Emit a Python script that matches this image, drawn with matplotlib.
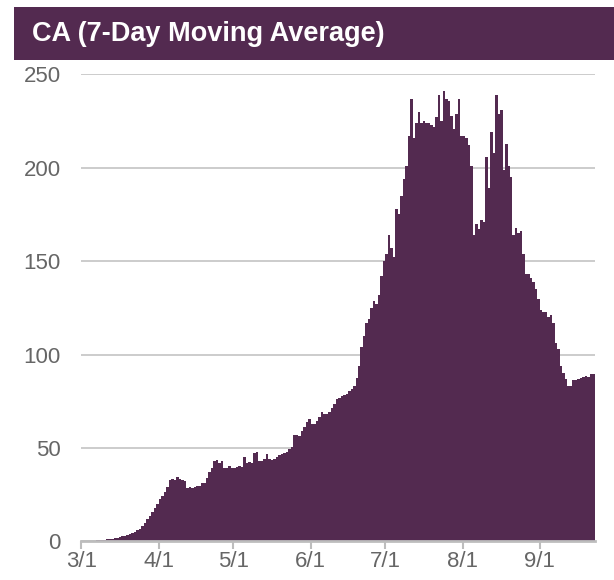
import matplotlib
matplotlib.use("Agg")
import matplotlib.pyplot as plt
import pandas as pd
from matplotlib.patches import Rectangle

plt.rcParams["font.family"] = ["Liberation Sans", "DejaVu Sans"]

# 7-day moving average, one value per day, split by month
mar = [0.1, 0.1, 0.2, 0.2, 0.3, 0.4, 0.5, 0.6, 0.8, 0.9, 1.0, 1.2, 1.4, 1.7, 2.0, 2.3,
       2.6, 3.0, 3.3, 3.7, 4.2, 5.0, 5.8, 6.8, 8.2, 10.0, 12.0, 13.5, 15.5, 18.0, 20.0]
apr = [22.5, 24.5, 26.5, 29.0, 33.0, 33.5, 33.0, 34.5, 33.5, 33.0, 32.5, 28.5, 29.0, 28.5, 29.0,
       29.5, 29.5, 31.0, 31.0, 34.0, 37.0, 39.0, 43.0, 43.5, 42.0, 43.0, 39.5, 39.0, 40.5, 39.5]
may = [39.5, 40.0, 40.5, 40.0, 45.0, 42.0, 42.5, 42.0, 47.5, 48.0, 43.0, 43.0, 44.0, 47.0, 44.0, 43.5,
       44.0, 45.0, 46.0, 47.0, 47.5, 48.0, 49.5, 50.5, 57.0, 57.0, 56.5, 59.0, 61.0, 64.0, 65.5]
jun = [63.0, 63.0, 64.5, 66.5, 69.0, 68.0, 68.0, 69.5, 71.5, 73.5, 76.0, 76.5, 78.0, 78.5, 79.0,
       80.5, 81.5, 83.0, 87.5, 94.0, 104.0, 110.0, 117.0, 119.0, 125.0, 128.5, 127.0, 132.0, 142.0, 150.0]
jul = [154, 164, 157, 152, 178, 175, 185, 194, 201, 217, 237, 216, 224, 230, 224, 225,
       224, 224, 223, 222, 227, 239, 225, 241, 237, 236, 228, 221, 229, 237, 217]
aug = [217, 216, 212, 201, 164, 170, 167, 172, 171, 206, 189, 219, 208, 239, 229, 231,
       199, 213, 201, 195, 164, 168, 165, 166, 154, 143, 143, 141, 139, 135, 130]
sep = [124, 123, 123, 120, 121, 117, 106, 103, 94, 90, 87, 83, 83, 86.5, 86.5, 87,
       87.5, 88, 88.7, 88, 89.7, 89.5]

values = mar + apr + may + jun + jul + aug + sep
dates = pd.date_range("2020-03-01", periods=len(values), freq="D")

tick_dates = pd.to_datetime(["2020-03-01", "2020-04-01", "2020-05-01", "2020-06-01",
                             "2020-07-01", "2020-08-01", "2020-09-01"])
tick_labels = ["3/1", "4/1", "5/1", "6/1", "7/1", "8/1", "9/1"]
y_ticks = [0, 50, 100, 150, 200, 250]

purple = "#532a50"
grey_text = "#666666"

fig = plt.figure(figsize=(6.14, 5.80), dpi=100)
ax = fig.add_axes([0.1326, 0.0667, 0.836, 0.805])

ax.bar(dates, values, width=1.0, align="edge", color=purple, linewidth=0)

ax.set_xlim(dates[0], dates[-1] + pd.Timedelta(days=1))
ax.set_ylim(0, 250)
ax.set_yticks(y_ticks)
ax.set_xticks(tick_dates)
ax.set_xticklabels(tick_labels)

ax.set_axisbelow(True)
ax.yaxis.grid(True, color="#c8c8c8", linewidth=1.3)
for s in ["top", "right", "left"]:
    ax.spines[s].set_visible(False)
ax.spines["bottom"].set_color("#bdbdbd")
ax.spines["bottom"].set_linewidth(2)

ax.tick_params(axis="y", length=0, pad=15, labelsize=16, labelcolor=grey_text)
ax.tick_params(axis="x", length=6, width=1.5, color="#bdbdbd", pad=1,
               labelsize=16, labelcolor=grey_text)

# title banner
fig.patches.append(Rectangle((14 / 614, 1 - 60 / 580), 1 - 14 / 614, 53 / 580,
                             transform=fig.transFigure, facecolor=purple,
                             edgecolor="none", zorder=0))
fig.text(32 / 614, 1 - 34 / 580, "CA (7-Day Moving Average)", color="white",
         fontsize=19.5, fontweight="bold", va="center", ha="left")

fig.savefig("out.png", dpi=100)
